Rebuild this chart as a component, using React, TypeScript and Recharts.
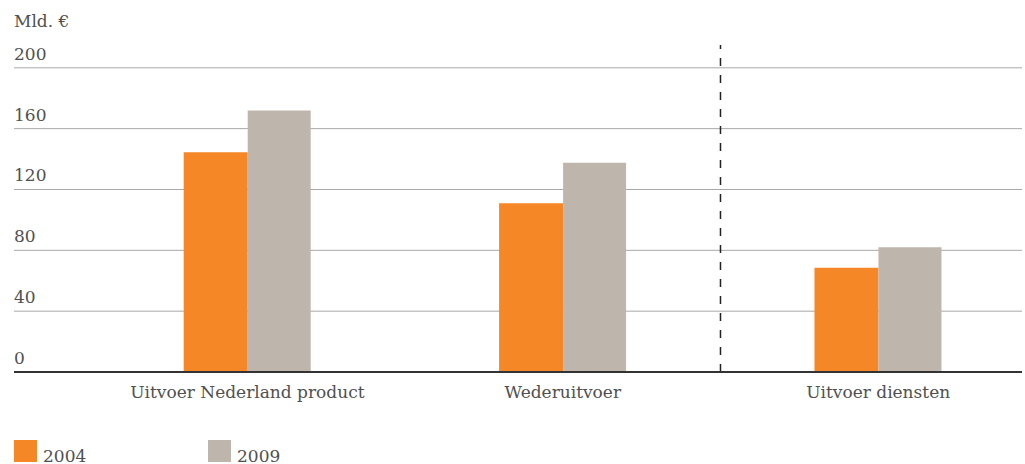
import { BarChart, Bar, XAxis, YAxis, CartesianGrid, ReferenceLine } from "recharts";

const categories = ["Uitvoer Nederland product", "Wederuitvoer", "Uitvoer diensten"];
const values2004 = [144.5, 111, 68.5];
const values2009 = [172, 137.5, 82];
const yTicks = [0, 40, 80, 120, 160, 200];
const seriesNames = ["2004", "2009"];
const colors = ["#F58727", "#BEB6AD"];

const data = categories.map((name, i) => ({
  idx: i,
  name,
  v2004: values2004[i],
  v2009: values2009[i],
}));

const FONT = "'DejaVu Serif', serif";
const LEFT = 14;
const TEXT = "#505050";

function YTick({ y, payload }: any) {
  return (
    <text x={LEFT} y={y - 8} fill={TEXT} fontSize={17} fontFamily={FONT}>
      {payload.value}
    </text>
  );
}

function XTick({ x, y, payload }: any) {
  return (
    <text x={x} y={y + 18} textAnchor="middle" fill={TEXT} fontSize={17} fontFamily={FONT}>
      {categories[payload.value]}
    </text>
  );
}

export default function App() {
  return (
    <div style={{ position: "absolute", left: 0, top: 0, width: 1025, height: 464, background: "#fff", fontFamily: FONT }}>
      <div style={{ position: "absolute", left: LEFT, top: 11, fontSize: 17, color: TEXT }}>Mld. €</div>
      <BarChart
        width={1025}
        height={464}
        data={data}
        margin={{ top: 45, right: 3, left: LEFT - 1, bottom: 62 }}
        barGap={0}
      >
        <CartesianGrid vertical={false} stroke="#a8a8a8" horizontalValues={yTicks} />
        <XAxis
          dataKey="idx"
          type="number"
          domain={[-0.74, 2.456]}
          ticks={[0, 1, 2]}
          allowDataOverflow
          tick={<XTick />}
          tickLine={false}
          axisLine={{ stroke: "#333", strokeWidth: 2 }}
          height={30}
        />
        <YAxis
          domain={[0, 215]}
          ticks={yTicks}
          width={1}
          interval={0}
          tick={<YTick />}
          tickLine={false}
          axisLine={false}
          allowDataOverflow
        />
        <ReferenceLine x={1.5} stroke="#222" strokeWidth={1.5} strokeDasharray="8 9" />
        <Bar dataKey="v2004" name={seriesNames[0]} fill={colors[0]} barSize={64} isAnimationActive={false} />
        <Bar dataKey="v2009" name={seriesNames[1]} fill={colors[1]} barSize={63} isAnimationActive={false} />
      </BarChart>
      <div style={{ position: "absolute", left: LEFT, top: 440, display: "flex", alignItems: "flex-end" }}>
        {seriesNames.map((s, i) => (
          <div key={s} style={{ display: "flex", alignItems: "flex-end", width: 194 }}>
            <div style={{ width: 23, height: 22, background: colors[i], marginRight: 6 }} />
            <span style={{ fontSize: 17, color: TEXT, lineHeight: "17px", marginBottom: -3 }}>{s}</span>
          </div>
        ))}
      </div>
    </div>
  );
}
